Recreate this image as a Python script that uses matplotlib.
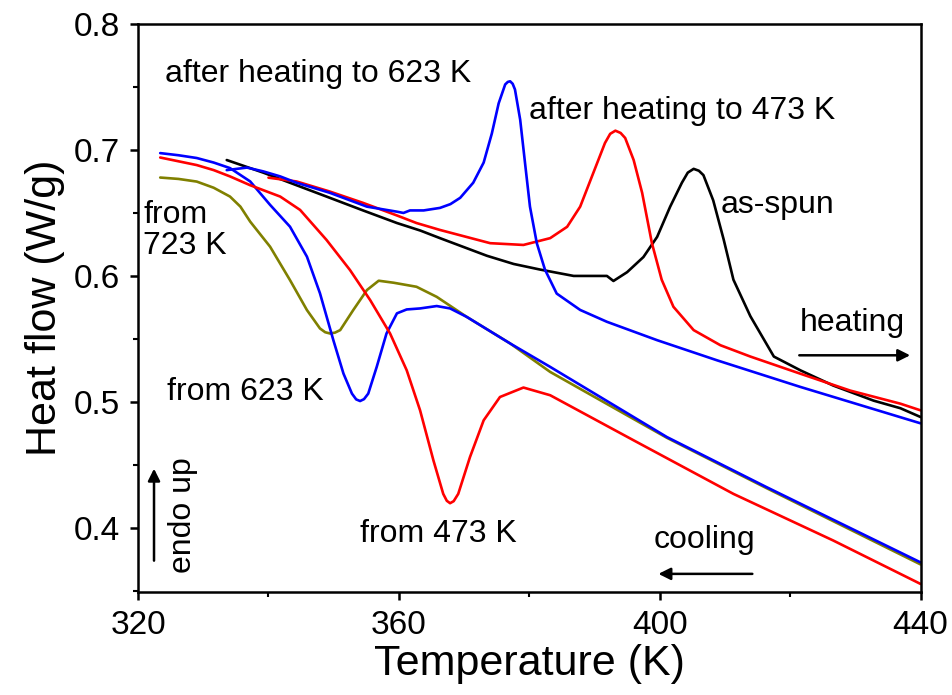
import matplotlib
matplotlib.use("Agg")
import matplotlib.pyplot as plt
from matplotlib.ticker import MultipleLocator

plt.rcParams['font.family'] = ['Liberation Sans', 'DejaVu Sans']

# Heating scans (upper traces)
as_spun_T = [333.6, 339.2, 344.3, 348.9, 354.5, 359.7, 363.3, 366.3, 369.9, 373.5,
             377.6, 381.7, 386.8, 391.9, 392.9, 395.0, 397.5, 399.6, 401.6, 403.4,
             404.3, 405.2, 406.0, 406.7, 408.2, 409.8, 411.3, 413.9, 417.5, 421.6,
             426.6, 432.8, 436.9, 440.0]
as_spun_q = [0.692, 0.682, 0.672, 0.663, 0.652, 0.642, 0.636, 0.630, 0.623, 0.616,
             0.6095, 0.605, 0.600, 0.600, 0.596, 0.603, 0.615, 0.631, 0.655, 0.674,
             0.682, 0.685, 0.6835, 0.680, 0.660, 0.629, 0.597, 0.568, 0.536, 0.525,
             0.513, 0.501, 0.495, 0.488]

h473_T = [340.0, 344.3, 349.4, 354.5, 359.7, 362.7, 366.3, 374.0, 379.1, 383.2,
          385.8, 387.8, 389.8, 391.6, 392.4, 393.2, 394.0, 394.7, 396.0, 397.3,
          398.8, 400.3, 402.1, 405.2, 409.3, 413.9, 421.5, 429.2, 436.9, 440.0]
h473_q = [0.678, 0.675, 0.667, 0.658, 0.648, 0.642, 0.6365, 0.626, 0.6246, 0.630,
          0.639, 0.655, 0.6816, 0.7055, 0.7128, 0.7153, 0.7135, 0.7095, 0.692, 0.666,
          0.626, 0.597, 0.5755, 0.557, 0.545, 0.536, 0.5225, 0.509, 0.4986, 0.4933]

h623_T = [333.6, 336.7, 339.2, 341.8, 344.3, 349.4, 355.1, 359.7, 360.7, 361.7,
          363.8, 366.3, 367.9, 369.4, 371.4, 373.0, 374.25, 375.3, 376.3, 376.7,
          377.06, 377.45, 377.8, 378.6, 379.4, 380.1, 381.15, 382.4, 384.2, 387.8,
          391.9, 399.6, 408.8, 421.5, 440.0]
h623_q = [0.684, 0.686, 0.683, 0.679, 0.674, 0.666, 0.655, 0.651, 0.650, 0.652,
          0.652, 0.654, 0.657, 0.662, 0.674, 0.690, 0.713, 0.737, 0.752, 0.754,
          0.7545, 0.7525, 0.748, 0.724, 0.687, 0.655, 0.626, 0.605, 0.586, 0.573,
          0.5636, 0.549, 0.533, 0.512, 0.483]

# Cooling scans (lower traces)
c473_T = [323.4, 326.2, 329.0, 331.6, 334.1, 337.2, 341.8, 344.85, 348.9, 352.5,
          355.6, 358.65, 361.2, 363.25, 365.3, 366.8, 367.35, 367.85, 368.4, 369.1,
          370.9, 373.0, 375.5, 379.1, 383.2, 396.0, 411.3, 426.6, 440.0]
c473_q = [0.694, 0.691, 0.688, 0.684, 0.679, 0.672, 0.663, 0.6524, 0.6286, 0.6047,
          0.5808, 0.5543, 0.5251, 0.4933, 0.4535, 0.427, 0.4215, 0.4196, 0.4212, 0.427,
          0.4562, 0.4854, 0.5039, 0.5114, 0.5053, 0.4695, 0.427, 0.390, 0.3555]

c623_T = [323.4, 326.2, 329.0, 331.6, 334.1, 337.2, 340.25, 343.3, 345.9, 347.9,
          349.95, 351.5, 352.8, 353.45, 354.05, 354.65, 355.3, 356.6, 358.1, 359.7,
          361.2, 363.25, 365.8, 367.85, 370.4, 377.06, 383.2, 401.1, 416.4, 440.0]
c623_q = [0.6975, 0.6958, 0.6936, 0.690, 0.6856, 0.675, 0.6564, 0.6391, 0.6153, 0.5862,
          0.549, 0.5225, 0.5066, 0.5020, 0.5007, 0.5022, 0.5066, 0.5278, 0.5543, 0.5703,
          0.5734, 0.5742, 0.5761, 0.5742, 0.5675, 0.5464, 0.5278, 0.4721, 0.4323, 0.3726]

c723_T = [323.4, 326.2, 329.0, 331.6, 334.1, 335.7, 337.2, 340.25, 343.3, 345.9,
          347.9, 348.7, 349.45, 350.2, 351.0, 353.0, 355.1, 356.9, 359.2, 362.7,
          365.8, 370.4, 377.06, 383.2, 401.1, 416.4, 440.0]
c723_q = [0.6781, 0.677, 0.6749, 0.670, 0.663, 0.655, 0.6431, 0.6232, 0.5967, 0.5729,
          0.5583, 0.5553, 0.5543, 0.5550, 0.557, 0.5729, 0.5888, 0.5962, 0.5946, 0.5914,
          0.5834, 0.5675, 0.5464, 0.5238, 0.4715, 0.4315, 0.371]

OLIVE = '#808000'
LW = 1.9

fig = plt.figure(figsize=(9.52, 6.95), dpi=100)
ax = fig.add_axes([0.145, 0.148, 0.822, 0.8175])

line_kw = dict(lw=LW, solid_joinstyle='round', solid_capstyle='round')
ax.plot(c723_T, c723_q, color=OLIVE, **line_kw)
ax.plot(c623_T, c623_q, color='#0000ff', **line_kw)
ax.plot(c473_T, c473_q, color='#ff0000', **line_kw)
ax.plot(as_spun_T, as_spun_q, color='black', **line_kw)
ax.plot(h473_T, h473_q, color='#ff0000', **line_kw)
ax.plot(h623_T, h623_q, color='#0000ff', **line_kw)

ax.set_xlim(320, 440)
ax.set_ylim(0.349, 0.8)
ax.xaxis.set_major_locator(MultipleLocator(40))
ax.xaxis.set_minor_locator(MultipleLocator(20))
ax.yaxis.set_major_locator(MultipleLocator(0.1))
ax.yaxis.set_minor_locator(MultipleLocator(0.05))
ax.yaxis.set_major_formatter(plt.FuncFormatter(lambda v, p: f"{v:.1f}"))

for s in ax.spines.values():
    s.set_linewidth(1.8)
ax.tick_params(which='major', direction='out', length=6, width=1.8,
               labelsize=24, pad=7)
ax.tick_params(which='minor', direction='out', length=3.5, width=1.5)

ax.set_xlabel('Temperature (K)', fontsize=31, labelpad=2)
ax.set_ylabel('Heat flow (W/g)', fontsize=31, labelpad=6)

fs = 23
ax.text(324.1, 0.760, 'after heating to 623 K', fontsize=fs, va='center', ha='left')
ax.text(380.0, 0.731, 'after heating to 473 K', fontsize=fs, va='center', ha='left')
ax.text(409.3, 0.656, 'as-spun', fontsize=fs, va='center', ha='left')
ax.text(421.4, 0.563, 'heating', fontsize=fs, va='center', ha='left')
ax.text(320.8, 0.636, 'from\n723 K', fontsize=fs, va='center', ha='left',
        linespacing=1.05)
ax.text(324.4, 0.5077, 'from 623 K', fontsize=fs, va='center', ha='left')
ax.text(354.05, 0.3955, 'from 473 K', fontsize=fs, va='center', ha='left')
ax.text(399.0, 0.390, 'cooling', fontsize=fs, va='center', ha='left')
ax.text(326.9, 0.410, 'endo up', fontsize=fs, va='center', ha='center',
        rotation=90)

arrow = dict(arrowstyle='-|>', color='black', lw=1.8, mutation_scale=18,
             shrinkA=0, shrinkB=0)
ax.annotate('', xy=(438.4, 0.537), xytext=(421.4, 0.537), arrowprops=arrow)
ax.annotate('', xy=(399.8, 0.3635), xytext=(414.2, 0.3635), arrowprops=arrow)
ax.annotate('', xy=(322.45, 0.447), xytext=(322.45, 0.374), arrowprops=arrow)

fig.savefig('out.png', dpi=100)
